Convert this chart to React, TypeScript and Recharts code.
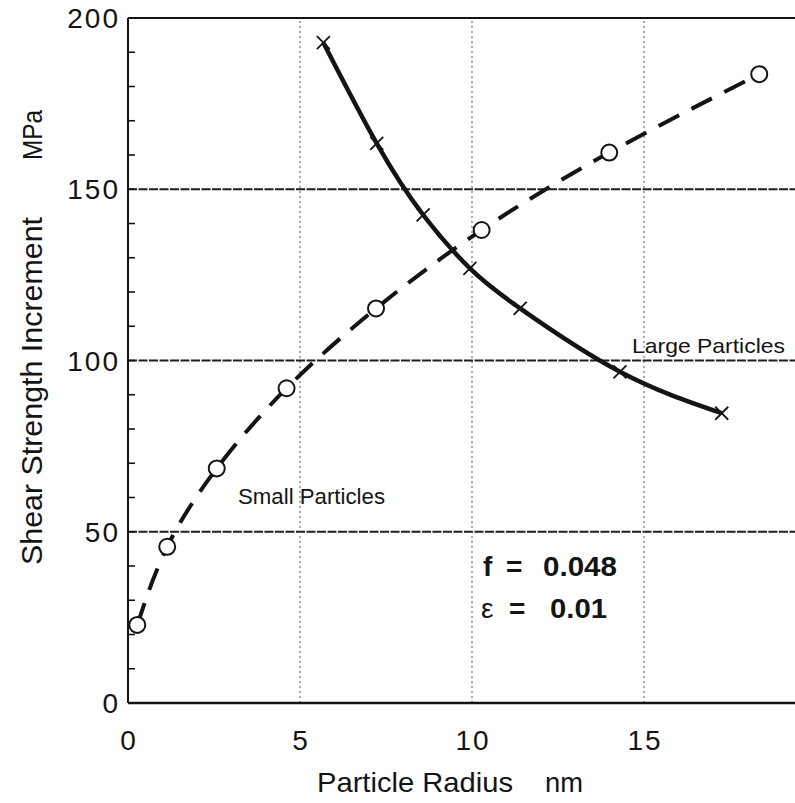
import React from 'react';
import { ComposedChart, Line, XAxis, YAxis, ReferenceLine } from 'recharts';

// ---- data ----
const xTickValues = [0, 5, 10, 15, 20];
const xLabelValues = [0, 5, 10, 15];
const yTickValues = [0, 10, 20, 30, 40, 50, 60, 70, 80, 90, 100, 110, 120, 130, 140, 150, 160, 170, 180, 190, 200];
const yLabelValues = [0, 50, 100, 150, 200];
const xGridValues = [5, 10, 15];
const yGridValues = [50, 100, 150];

const smallRadius = [0.27, 1.14, 2.58, 4.61, 7.21, 10.28, 13.99, 18.35];
const smallStrength = [22.8, 45.6, 68.5, 91.9, 115.2, 138.1, 160.7, 183.6];
const largeRadius = [5.68, 7.23, 8.58, 9.94, 11.4, 14.3, 17.26];
const largeStrength = [192.8, 163.4, 142.5, 126.9, 115.2, 96.7, 84.6];

const smallData = smallRadius.map((r, i) => ({ r, tau: smallStrength[i] }));
const largeData = largeRadius.map((r, i) => ({ r, tau: largeStrength[i] }));

const FONT = '"Liberation Sans", Arial, Helvetica, sans-serif';
const INK = '#141414';

const YTick = (props: any) => {
  const { x, y, payload } = props;
  const v = payload.value;
  return (
    <g>
      {v !== 0 && v !== 200 && (
        <line x1={x} x2={x + 7} y1={y} y2={y} stroke={INK} strokeWidth={1.6} />
      )}
      {yLabelValues.includes(v) && (
        <text x={x - 8} y={y + 10} textAnchor="end" fontFamily={FONT} fontSize={28} letterSpacing={2} fill={INK}>
          {v}
        </text>
      )}
    </g>
  );
};

const XTick = (props: any) => {
  const { x, y, payload } = props;
  if (!xLabelValues.includes(payload.value)) return <g />;
  return (
    <text x={x + 1} y={y + 47} textAnchor="middle" fontFamily={FONT} fontSize={28} letterSpacing={2} fill={INK}>
      {payload.value}
    </text>
  );
};

const CrossDot = (props: any) => {
  const { cx, cy, index } = props;
  const a = 6.5;
  return (
    <g key={`x-${index}`}>
      <line x1={cx - a} y1={cy - a} x2={cx + a} y2={cy + a} stroke={INK} strokeWidth={1.8} />
      <line x1={cx - a} y1={cy + a} x2={cx + a} y2={cy - a} stroke={INK} strokeWidth={1.8} />
    </g>
  );
};

const CircleDot = (props: any) => {
  const { cx, cy, index } = props;
  return <circle key={`o-${index}`} cx={cx} cy={cy} r={8} fill="#fff" stroke={INK} strokeWidth={2} />;
};

export default function App() {
  return (
    <div style={{ position: 'fixed', left: 0, top: 0, width: 795, height: 803, overflow: 'hidden', background: '#fff' }}>
      <ComposedChart width={840} height={803} margin={{ top: 18, right: 24, bottom: 0, left: 0 }}>
        <XAxis
          dataKey="r"
          type="number"
          domain={[0, 20]}
          ticks={xTickValues}
          allowDataOverflow
          height={100}
          tickSize={0}
          tickMargin={0}
          tickLine={false}
          axisLine={{ stroke: INK, strokeWidth: 2.5 }}
          tick={<XTick />}
          interval={0}
        />
        <YAxis
          type="number"
          domain={[0, 200]}
          ticks={yTickValues}
          allowDataOverflow
          width={128}
          tickSize={0}
          tickMargin={0}
          tickLine={false}
          axisLine={{ stroke: INK, strokeWidth: 2 }}
          tick={<YTick />}
          interval={0}
        />
        {yGridValues.map((v) => (
          <ReferenceLine key={`hy-${v}`} y={v} stroke="#1e1e1e" strokeWidth={2} strokeDasharray="9 1.5" />
        ))}
        {xGridValues.map((v) => (
          <ReferenceLine key={`vx-${v}`} x={v} stroke="#555" strokeWidth={1} strokeDasharray="2 3" />
        ))}
        <ReferenceLine y={200} stroke={INK} strokeWidth={2} />
        <Line
          data={smallData}
          dataKey="tau"
          type="natural"
          stroke={INK}
          strokeWidth={4}
          strokeDasharray="23 14"
          dot={<CircleDot />}
          isAnimationActive={false}
        />
        <Line
          data={largeData}
          dataKey="tau"
          type="natural"
          stroke={INK}
          strokeWidth={4.5}
          dot={<CrossDot />}
          isAnimationActive={false}
        />
      </ComposedChart>
      <svg width={795} height={803} style={{ position: 'absolute', left: 0, top: 0, pointerEvents: 'none' }}>
        <g fontFamily={FONT} fill={INK}>
          <text x={42} y={565} transform="rotate(-90 42 565)" fontSize={30} textLength={348} lengthAdjust="spacingAndGlyphs">
            Shear Strength Increment
          </text>
          <text x={42} y={160} transform="rotate(-90 42 160)" fontSize={28} textLength={50} lengthAdjust="spacingAndGlyphs">
            MPa
          </text>
          <text x={317} y={792} fontSize={28} textLength={196} lengthAdjust="spacingAndGlyphs">
            Particle Radius
          </text>
          <text x={545} y={792} fontSize={28} textLength={38} lengthAdjust="spacingAndGlyphs">
            nm
          </text>
          <text x={238} y={504} fontSize={22} textLength={147} lengthAdjust="spacingAndGlyphs">
            Small Particles
          </text>
          <text x={632} y={353} fontSize={21} textLength={153} lengthAdjust="spacingAndGlyphs">
            Large Particles
          </text>
          <text x={483} y={576} fontSize={28} fontWeight="bold">f</text>
          <text x={506} y={576} fontSize={28} fontWeight="bold">=</text>
          <text x={543} y={576} fontSize={28} fontWeight="bold" textLength={74} lengthAdjust="spacingAndGlyphs">0.048</text>
          <text x={481} y={618} fontSize={28}>ε</text>
          <text x={509} y={618} fontSize={28} fontWeight="bold">=</text>
          <text x={550} y={618} fontSize={28} fontWeight="bold" textLength={57} lengthAdjust="spacingAndGlyphs">0.01</text>
        </g>
      </svg>
    </div>
  );
}
